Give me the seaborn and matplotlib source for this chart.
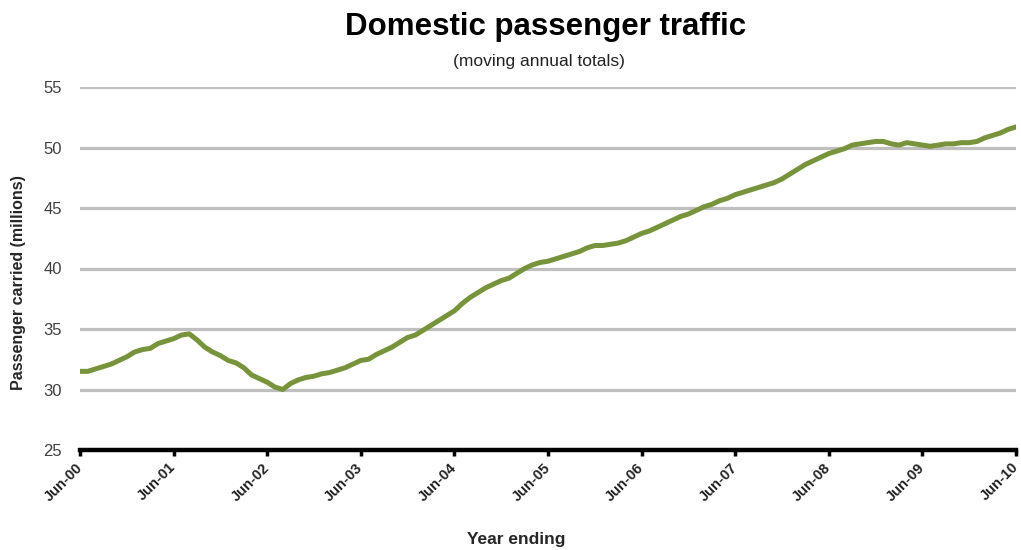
import numpy as np
import pandas as pd
import matplotlib
matplotlib.use("Agg")
import matplotlib.pyplot as plt
import seaborn as sns

# Monthly moving annual totals (millions), Jun-00 .. Jun-10
passengers = [
    31.5, 31.5, 31.7, 31.9, 32.1, 32.4, 32.7, 33.1, 33.3, 33.4, 33.8, 34.0,
    34.2, 34.5, 34.6, 34.1, 33.5, 33.1, 32.8, 32.4, 32.2, 31.8, 31.2, 30.9,
    30.6, 30.2, 30.0, 30.5, 30.8, 31.0, 31.1, 31.3, 31.4, 31.6, 31.8, 32.1,
    32.4, 32.5, 32.9, 33.2, 33.5, 33.9, 34.3, 34.5, 34.9, 35.3, 35.7, 36.1,
    36.5, 37.1, 37.6, 38.0, 38.4, 38.7, 39.0, 39.2, 39.6, 40.0, 40.3, 40.5,
    40.6, 40.8, 41.0, 41.2, 41.4, 41.7, 41.9, 41.9, 42.0, 42.1, 42.3, 42.6,
    42.9, 43.1, 43.4, 43.7, 44.0, 44.3, 44.5, 44.8, 45.1, 45.3, 45.6, 45.8,
    46.1, 46.3, 46.5, 46.7, 46.9, 47.1, 47.4, 47.8, 48.2, 48.6, 48.9, 49.2,
    49.5, 49.7, 49.9, 50.2, 50.3, 50.4, 50.5, 50.5, 50.3, 50.2, 50.4, 50.3,
    50.2, 50.1, 50.2, 50.3, 50.3, 50.4, 50.4, 50.5, 50.8, 51.0, 51.2, 51.5,
    51.7,
]
tick_labels = ["Jun-00", "Jun-01", "Jun-02", "Jun-03", "Jun-04", "Jun-05",
               "Jun-06", "Jun-07", "Jun-08", "Jun-09", "Jun-10"]
y_ticks = [25, 30, 35, 40, 45, 50, 55]

df = pd.DataFrame({"month": np.arange(len(passengers)), "passengers": passengers})

sns.set_theme(style="white")
plt.rcParams["font.family"] = ["Liberation Sans", "DejaVu Sans"]

fig = plt.figure(figsize=(10.21, 5.5), dpi=100)
ax = fig.add_axes([80 / 1021, 1 - 450 / 550, (1016 - 80) / 1021, (450 - 87) / 550])

for yv in y_ticks[1:]:
    ax.axhline(yv, color="#BFBFBF", lw=2.3, zorder=1)

sns.lineplot(data=df, x="month", y="passengers", ax=ax, color="#77933C",
             lw=3.6, zorder=3)

ax.set_xlim(0, len(passengers) - 1)
ax.set_ylim(25, 55)
ax.set_yticks(y_ticks)
ax.set_yticklabels([str(v) for v in y_ticks], fontsize=12, color="#404040")
ax.set_xticks(np.arange(0, len(passengers), 12))
ax.set_xticklabels(tick_labels, rotation=45, ha="right", va="center",
                   rotation_mode="anchor",
                   fontsize=10.5, fontweight="bold", color="#222222")

for s in ["left", "right", "top"]:
    ax.spines[s].set_visible(False)
ax.spines["bottom"].set_color("black")
ax.spines["bottom"].set_linewidth(3.2)
ax.spines["bottom"].set_zorder(4)

ax.tick_params(axis="x", which="major", direction="out", length=4, width=2.5,
               color="black", bottom=True, pad=7)
ax.tick_params(axis="y", length=0, pad=13)

ax.set_xlabel("Year ending", fontsize=12.5, fontweight="bold")
ax.xaxis.set_label_coords(0.466, -0.226)
ax.set_ylabel("Passenger carried (millions)", fontsize=11.5, fontweight="bold")
ax.yaxis.set_label_coords(-0.0576, 0.46)

fig.text(0.534, 0.951, "Domestic passenger traffic", ha="center", va="center",
         fontsize=22.5, fontweight="bold", color="black")
fig.text(0.528, 0.888, "(moving annual totals)", ha="center", va="center",
         fontsize=12.5, color="#222222")

fig.savefig("out.png", dpi=100)
